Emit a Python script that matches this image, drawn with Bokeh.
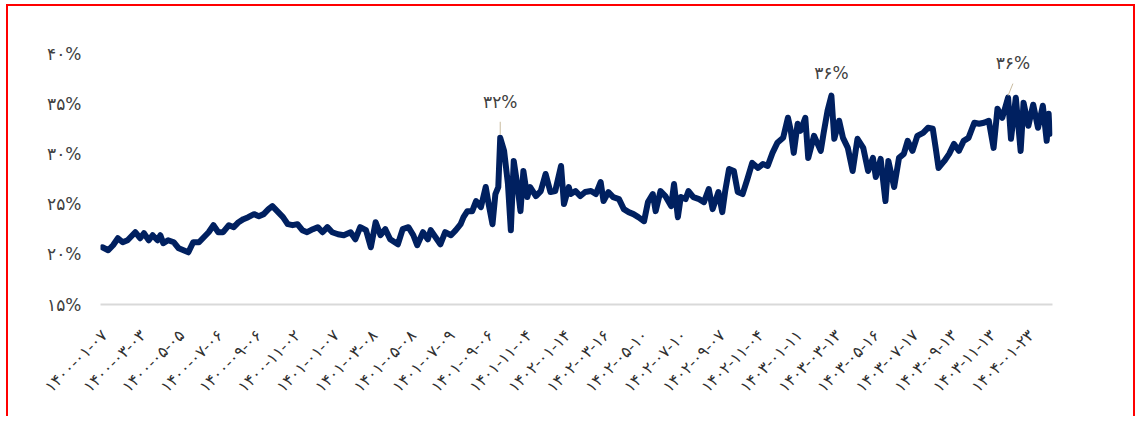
import math
from bokeh.plotting import figure
from bokeh.models import Range1d, FixedTicker, Label, ColumnDataSource
from bokeh.embed import file_html
from bokeh.resources import INLINE

# trading-day index of each observation
day_index = [
    2, 8, 13, 18, 23, 28, 33, 36, 41, 45, 50, 54, 59, 62, 65, 70, 76, 81, 86, 91,
    96, 102, 107, 112, 117, 122, 127, 133, 138, 143, 148, 153, 159, 164, 169, 174, 178, 183, 189, 194,
    199, 204, 209, 214, 220, 225, 230, 235, 240,
    246, 252, 259, 264, 269, 275, 280, 285, 290, 295, 300, 308, 313, 319, 324, 328, 334, 339, 342, 347,
    352, 357, 363, 368, 373, 376, 380, 385, 389, 394, 399, 402, 406, 409, 412, 414, 418, 422, 425, 428,
    432, 435, 438, 442, 445, 451, 456, 461, 466, 471, 477, 480,
    485, 487, 492, 497, 502, 508, 513, 518, 521, 526, 531, 537, 542, 547, 552, 557, 563, 567, 572, 575,
    580, 585, 591, 594, 598, 601, 606, 609, 614, 620, 625, 630, 634, 640, 644, 647, 651, 656, 660, 665,
    670, 675, 681, 686, 691, 696, 701, 707, 712, 715, 718, 722,
    725, 730, 733, 739, 746, 749, 753, 757, 760, 765, 769, 774, 779, 784, 790, 795, 800, 803, 808, 813,
    816, 822, 827, 832, 836, 841, 846, 852, 857, 862, 865, 868, 874, 879, 884, 889, 894, 899, 905, 910,
    915, 920, 925, 929, 934, 940, 943, 948, 953, 956, 961, 966, 971, 976, 980, 982, 983,
]

# ratio in percent
ratio_pct = [
    20.7, 20.4, 20.9, 21.6, 21.2, 21.4, 21.9, 22.2, 21.6, 22.1, 21.4, 21.9, 21.4, 21.9, 21.1, 21.4, 21.2, 20.6, 20.4, 20.2,
    21.2, 21.2, 21.7, 22.2, 22.9, 22.2, 22.2, 22.9, 22.7, 23.2, 23.5, 23.7, 24.0, 23.8, 24.0, 24.5, 24.8, 24.3, 23.7, 23.0,
    22.9, 23.0, 22.4, 22.2, 22.5, 22.7, 22.2, 22.7, 22.2,
    22.0, 21.9, 22.2, 21.5, 22.7, 22.4, 20.7, 23.2, 21.9, 22.5, 21.5, 21.0, 22.5, 22.7, 21.9, 20.9, 22.2, 21.5, 22.4, 21.7,
    21.0, 22.2, 21.9, 22.4, 23.0, 23.7, 24.3, 24.3, 25.3, 24.7, 26.7, 25.0, 23.0, 26.0, 26.7, 31.6, 30.3, 27.0, 22.4, 29.3,
    26.7, 24.3, 28.3, 25.7, 26.7, 25.8, 26.3, 28.0, 26.2, 26.3, 28.8, 25.0,
    26.7, 26.0, 26.3, 25.8, 26.2, 26.3, 26.0, 27.2, 25.3, 26.2, 25.7, 25.5, 24.5, 24.2, 24.0, 23.7, 23.3, 25.2, 26.0, 24.3,
    26.3, 25.8, 24.8, 27.0, 23.7, 25.7, 25.5, 26.3, 25.7, 25.5, 25.2, 26.5, 24.5, 26.2, 24.2, 26.3, 28.5, 28.3, 26.2, 26.0,
    27.5, 29.1, 28.6, 29.0, 28.8, 30.1, 31.1, 31.6, 33.6, 32.3, 30.1, 33.0,
    32.3, 33.6, 29.6, 31.8, 30.3, 32.1, 34.3, 35.8, 31.5, 33.3, 31.6, 30.6, 28.3, 31.5, 30.6, 28.3, 29.6, 27.7, 29.5, 25.3,
    29.3, 26.7, 29.6, 30.0, 31.3, 30.3, 31.8, 32.1, 32.6, 32.5, 30.6, 28.6, 29.3, 30.0, 31.0, 30.3, 31.3, 31.6, 33.1, 33.0,
    33.1, 33.3, 30.6, 34.5, 33.6, 35.6, 31.5, 35.6, 30.3, 35.1, 32.8, 34.9, 32.6, 34.8, 31.3, 34.0, 32.0,
]

# x-axis tick labels (one every 40 trading days)
tick_labels = [
    "۱۴۰۰-۰۱-۰۷", "۱۴۰۰-۰۳-۰۳", "۱۴۰۰-۰۵-۰۵", "۱۴۰۰-۰۷-۰۶", "۱۴۰۰-۰۹-۰۶",
    "۱۴۰۰-۱۱-۰۲", "۱۴۰۱-۰۱-۰۷", "۱۴۰۱-۰۳-۰۸", "۱۴۰۱-۰۵-۰۸", "۱۴۰۱-۰۷-۰۹",
    "۱۴۰۱-۰۹-۰۶", "۱۴۰۱-۱۱-۰۴", "۱۴۰۲-۰۱-۱۴", "۱۴۰۲-۰۳-۱۶", "۱۴۰۲-۰۵-۱۰",
    "۱۴۰۲-۰۷-۱۰", "۱۴۰۲-۰۹-۰۷", "۱۴۰۲-۱۱-۰۴", "۱۴۰۳-۰۱-۱۱", "۱۴۰۳-۰۳-۱۳",
    "۱۴۰۳-۰۵-۱۶", "۱۴۰۳-۰۷-۱۷", "۱۴۰۳-۰۹-۱۳", "۱۴۰۳-۱۱-۱۳", "۱۴۰۴-۰۱-۲۳",
]
tick_first_day = 4
tick_step = 40

y_ticks = [15, 20, 25, 30, 35, 40]
y_labels = ["۱۵%", "۲۰%", "۲۵%", "۳۰%", "۳۵%", "۴۰%"]

# peak annotations
ann_days = [414, 757, 940]
ann_vals = [31.6, 35.8, 35.6]
ann_text = ["۳۲%", "۳۶%", "۳۶%"]

FONT = "DejaVu Sans"
TEXT_COLOR = "#404040"
LINE_COLOR = "#002060"

p = figure(
    width=1129, height=412,
    x_range=Range1d(0, 986), y_range=Range1d(15, 40),
    output_backend="svg", toolbar_location=None,
    min_border_left=92, min_border_right=85, min_border_top=47, min_border_bottom=114,
    background_fill_color="white", border_fill_color="white",
    styles={
        "margin-left": "6px",
        "margin-top": "4px",
        "border-top": "2px solid #ff0000",
        "border-left": "2px solid #ff0000",
        "border-right": "2px solid #ff0000",
    },
)
p.outline_line_color = None
p.xgrid.visible = False
p.ygrid.visible = False

src = ColumnDataSource(dict(x=day_index, y=ratio_pct))
p.line("x", "y", source=src, line_color=LINE_COLOR, line_width=6,
       line_join="round", line_cap="round")

# leader lines
lead = ColumnDataSource(dict(
    x0=[ann_days[0], ann_days[2]],
    y0=[ann_vals[0] + 0.3, ann_vals[2] + 0.2],
    x1=[ann_days[0], ann_days[2] + 5],
    y1=[ann_vals[0] + 1.6, ann_vals[2] + 1.4],
))
p.segment("x0", "y0", "x1", "y1", source=lead, line_color="#c9bb9f", line_width=1)

offsets = [26, 13, 25]
shifts = [0, 0, 5]
for d, v, t, off, sh in zip(ann_days, ann_vals, ann_text, offsets, shifts):
    p.add_layout(Label(
        x=d + sh, y=v, y_offset=off, text=t,
        text_align="center", text_baseline="bottom",
        text_font=FONT, text_font_size="17px", text_color=TEXT_COLOR,
    ))

# y axis
ya = p.yaxis[0]
ya.ticker = FixedTicker(ticks=y_ticks)
ya.major_label_overrides = {t: l for t, l in zip(y_ticks, y_labels)}
ya.axis_line_color = None
ya.major_tick_line_color = None
ya.minor_tick_line_color = None
ya.major_label_standoff = 13
ya.major_label_text_font = FONT
ya.major_label_text_font_size = "17px"
ya.major_label_text_color = TEXT_COLOR

# x axis
tick_pos = [tick_first_day + tick_step * i for i in range(len(tick_labels))]
xa = p.xaxis[0]
xa.ticker = FixedTicker(ticks=tick_pos)
xa.major_label_overrides = {t: l for t, l in zip(tick_pos, tick_labels)}
xa.axis_line_color = "#d9d9d9"
xa.axis_line_width = 2
xa.major_tick_line_color = None
xa.minor_tick_line_color = None
xa.major_label_orientation = math.pi / 4
xa.major_label_standoff = 22
xa.major_label_text_font = FONT
xa.major_label_text_font_size = "16px"
xa.major_label_text_color = "#303030"

open("out.html", "w").write(file_html(p, INLINE))
